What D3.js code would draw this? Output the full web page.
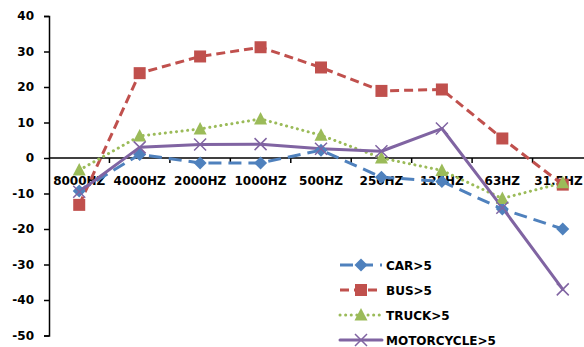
<!DOCTYPE html>
<html>
<head>
<meta charset="utf-8">
<script src="https://cdn.jsdelivr.net/npm/d3@7"></script>
<style>
  html, body { margin: 0; padding: 0; background: #fff; }
  svg text { font-family: "DejaVu Sans", sans-serif; font-weight: bold; font-size: 12px; fill: #000; }
</style>
</head>
<body>
<svg id="chart" width="584" height="347"></svg>
<script>
// Octave bands along the x axis
const bands = ["8000HZ", "4000HZ", "2000HZ", "1000HZ", "500HZ", "250HZ", "125HZ", "63HZ", "31.5HZ"];
const yTicks = [40, 30, 20, 10, 0, -10, -20, -30, -40, -50];

// Level differences per vehicle class
const car        = [-9.3, 1.0, -1.4, -1.4, 2.2, -5.4, -6.6, -14.4, -20.0];
const bus        = [-13.2, 23.9, 28.6, 31.2, 25.5, 18.9, 19.3, 5.5, -7.5];
const truck      = [-3.4, 6.2, 8.2, 11.0, 6.4, 0.0, -3.5, -11.4, -7.0];
const motorcycle = [-9.5, 3.0, 3.8, 3.9, 2.6, 1.9, 8.3, -14.0, -37.0];

const seriesNames = ["CAR>5", "BUS>5", "TRUCK>5", "MOTORCYCLE>5"];

const series = [
  { name: seriesNames[0], values: car,        color: "#4F81BD", dash: "13,7",    cap: "butt",  marker: "diamond" },
  { name: seriesNames[1], values: bus,        color: "#C0504D", dash: "9,5",     cap: "butt",  marker: "square" },
  { name: seriesNames[2], values: truck,      color: "#9BBB59", dash: "0.1,5.5", cap: "round", marker: "triangle" },
  { name: seriesNames[3], values: motorcycle, color: "#8064A2", dash: null,      cap: "round", marker: "cross" }
];

const svg = d3.select("#chart");
const W = 584;
const axisX0 = 49, axisX1 = 593;

const x = d3.scaleBand().domain(bands).range([axisX0, axisX1]);
const y = d3.scaleLinear().domain([-50, 40]).range([335.5, 16]);
const cx = d => x(d) + x.bandwidth() / 2;

// Y axis (plain hyphen for negative numbers)
const yAxis = d3.axisLeft(y).tickValues(yTicks).tickSize(5).tickPadding(10).tickFormat(d => String(d));
const gy = svg.append("g").attr("transform", `translate(${axisX0},0)`).call(yAxis);
gy.select(".domain").attr("stroke", "#000").attr("stroke-width", 1.5);
gy.selectAll(".tick line").attr("stroke", "#000").attr("stroke-width", 1.5);
gy.selectAll(".tick text").attr("font-size", 12).attr("font-family", "DejaVu Sans").attr("font-weight", "bold").attr("fill", "#000");

// X axis along zero line
const gx = svg.append("g").attr("transform", `translate(0,${y(0)})`);
gx.append("line").attr("x1", axisX0).attr("x2", axisX1).attr("y1", 0).attr("y2", 0)
  .attr("stroke", "#000").attr("stroke-width", 1.5);
gx.selectAll("line.tk").data(bands.slice(1)).join("line").attr("class", "tk")
  .attr("x1", d => x(d)).attr("x2", d => x(d)).attr("y1", 0).attr("y2", 5)
  .attr("stroke", "#000").attr("stroke-width", 1.5);

// Lines
const line = d3.line().x((d, i) => cx(bands[i])).y(d => y(d));
series.forEach(s => {
  svg.append("path").datum(s.values).attr("d", line)
    .attr("fill", "none").attr("stroke", s.color).attr("stroke-width", 3)
    .attr("stroke-dasharray", s.dash).attr("stroke-linecap", s.cap).attr("stroke-linejoin", "round");
});

// Band labels drawn over the lines; keep the last one inside the frame
gx.selectAll("text").data(bands).join("text")
  .attr("x", d => cx(d)).attr("y", 27).attr("text-anchor", "middle").text(d => d)
  .each(function() {
    const b = this.getBBox();
    const over = b.x + b.width - (W - 1);
    if (over > 0) d3.select(this).attr("x", +d3.select(this).attr("x") - over);
  });

// Marker shapes
function drawMarker(g, type, color) {
  if (type === "diamond") {
    g.append("path").attr("d", "M0,-6.5L6.5,0L0,6.5L-6.5,0Z").attr("fill", color);
  } else if (type === "square") {
    g.append("rect").attr("x", -6).attr("y", -6).attr("width", 12).attr("height", 12).attr("fill", color);
  } else if (type === "triangle") {
    g.append("path").attr("d", "M0,-7L6.5,5.5L-6.5,5.5Z").attr("fill", color);
  } else if (type === "cross") {
    g.append("path").attr("d", "M-6,-6L6,6M-6,6L6,-6").attr("stroke", color).attr("stroke-width", 1.5).attr("fill", "none");
  }
}

series.forEach(s => {
  s.values.forEach((v, i) => {
    const g = svg.append("g").attr("transform", `translate(${cx(bands[i])},${y(v)})`);
    drawMarker(g, s.marker, s.color);
  });
});

// Legend
const legend = svg.append("g").attr("transform", "translate(340,265)");
series.forEach((s, i) => {
  const row = legend.append("g").attr("transform", `translate(0,${i * 25})`);
  row.append("line").attr("x1", 0).attr("x2", 42).attr("y1", 0).attr("y2", 0)
    .attr("stroke", s.color).attr("stroke-width", 3)
    .attr("stroke-dasharray", s.dash).attr("stroke-linecap", s.cap);
  const m = row.append("g").attr("transform", "translate(21,0)");
  drawMarker(m, s.marker, s.color);
  row.append("text").attr("x", 46).attr("y", 4.5).text(s.name);
});
</script>
</body>
</html>
